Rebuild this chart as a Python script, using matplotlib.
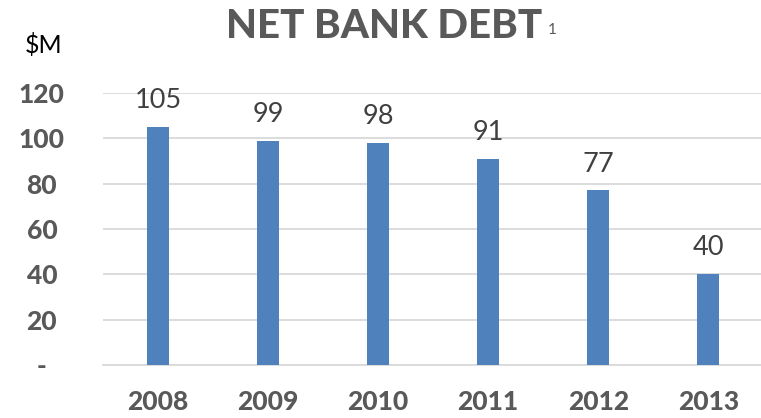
import matplotlib
matplotlib.use("Agg")
import matplotlib.pyplot as plt

years = ["2008", "2009", "2010", "2011", "2012", "2013"]
net_debt = [105, 99, 98, 91, 77, 40]
y_ticks = [0, 20, 40, 60, 80, 100, 120]
y_tick_labels = ["-", "20", "40", "60", "80", "100", "120"]

plt.rcParams["font.family"] = ["Lato", "DejaVu Sans"]

bar_color = "#4F81BD"
grey_text = "#595959"
grid_color = "#D9D9D9"

fig = plt.figure(figsize=(7.61, 4.18), dpi=100)
ax = fig.add_axes([103 / 761, 1 - 365 / 418, 1 - 103 / 761 + 0.003, (365 - 93) / 418])

x = range(len(years))
bars = ax.bar(x, net_debt, width=0.2, color=bar_color, zorder=3)

for xi, v in zip(x, net_debt):
    ax.annotate(str(v), (xi, v), xytext=(0, 10), textcoords="offset points",
                ha="center", va="bottom", fontsize=19.5, color="#404040")

ax.set_xlim(-0.5, len(years) - 0.5)
ax.set_ylim(0, 120)
ax.set_yticks(y_ticks)
ax.set_yticklabels(y_tick_labels, fontsize=19, fontweight="black", color=grey_text)
ax.set_xticks(list(x))
ax.set_xticklabels(years, fontsize=19, fontweight="black", color=grey_text)
ax.tick_params(axis="both", length=0)
ax.tick_params(axis="y", pad=44)
ax.tick_params(axis="x", pad=18)
for lab in ax.get_yticklabels():
    lab.set_horizontalalignment("center")

ax.yaxis.grid(True, color=grid_color, linewidth=1.3, zorder=0)
ax.set_axisbelow(True)
for s in ["top", "right", "left"]:
    ax.spines[s].set_visible(False)
ax.spines["bottom"].set_color(grid_color)
ax.spines["bottom"].set_linewidth(1.3)

title = fig.text(384 / 761, 1 - 27 / 418, "NET BANK DEBT", ha="center", va="center",
                 fontsize=29, fontweight="black", color=grey_text)
fig.text(548 / 761, 1 - 30 / 418, "1", ha="left", va="center",
         fontsize=11, color=grey_text)
fig.text(44 / 761, 1 - 45 / 418, "$M", ha="center", va="center",
         fontsize=18, color="black")

fig.savefig("out.png", dpi=100)
